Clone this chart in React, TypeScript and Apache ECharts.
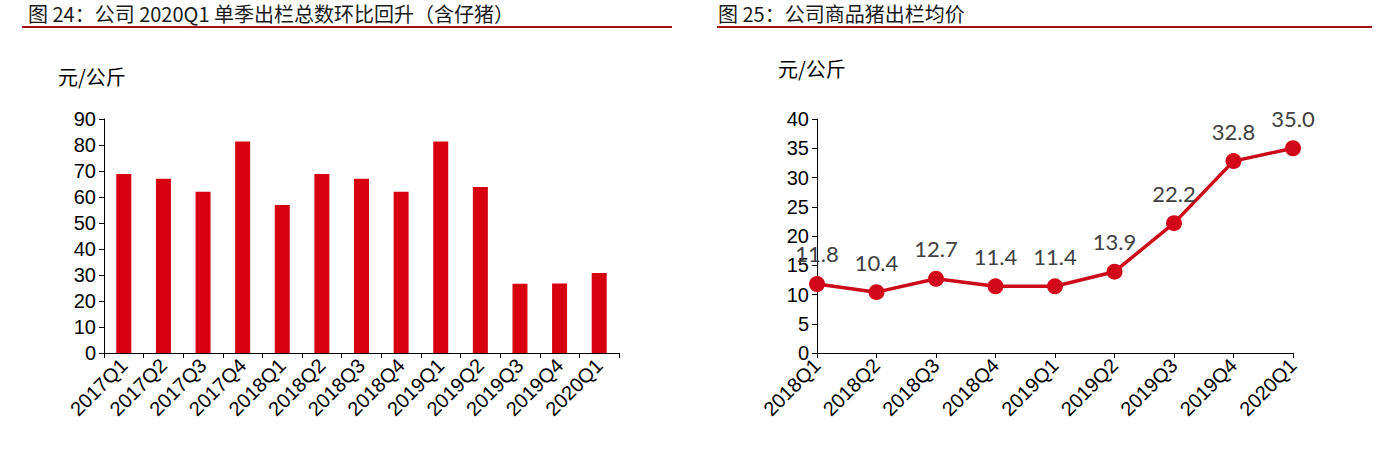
import { useEffect, useRef } from 'react';
import * as echarts from 'echarts';

// Left chart: quarterly output (bars)
const barCategories = [
  '2017Q1', '2017Q2', '2017Q3', '2017Q4',
  '2018Q1', '2018Q2', '2018Q3', '2018Q4',
  '2019Q1', '2019Q2', '2019Q3', '2019Q4', '2020Q1',
];
const barValues = [68.8, 67, 62, 81.3, 56.9, 68.8, 67, 62, 81.3, 63.8, 26.6, 26.7, 30.8];
const barTicks = { min: 0, max: 90, interval: 10 };

// Right chart: average selling price (line)
const lineCategories = [
  '2018Q1', '2018Q2', '2018Q3', '2018Q4',
  '2019Q1', '2019Q2', '2019Q3', '2019Q4', '2020Q1',
];
const lineValues = [11.8, 10.4, 12.7, 11.4, 11.4, 13.9, 22.2, 32.8, 35.0];
const lineTicks = { min: 0, max: 40, interval: 5 };

const leftTitle = '图 24：公司 2020Q1 单季出栏总数环比回升（含仔猪）';
const rightTitle = '图 25：公司商品猪出栏均价';
const unitLabel = '元/公斤';

const CJK = 'Noto Sans CJK SC';
const ARIAL = 'Liberation Sans';

export default function App() {
  const chartRef = useRef<HTMLDivElement>(null);

  useEffect(() => {
    if (!chartRef.current) {
      return;
    }
    const chart = echarts.init(chartRef.current, null, { renderer: 'svg' });

    const catAxis = (gridIndex: number, data: string[], boundaryGap: boolean) => ({
      type: 'category' as const,
      gridIndex,
      data,
      boundaryGap,
      axisLine: { lineStyle: { color: '#000', width: 1 } },
      axisTick: { show: true, length: 5, lineStyle: { color: '#000' } },
      axisLabel: {
        interval: 0,
        rotate: 45,
        margin: 9,
        color: '#000',
        fontSize: 20,
        fontFamily: ARIAL,
      },
    });

    const valAxis = (gridIndex: number, ticks: { min: number; max: number; interval: number }) => ({
      type: 'value' as const,
      gridIndex,
      min: ticks.min,
      max: ticks.max,
      interval: ticks.interval,
      splitLine: { show: false },
      axisLine: { show: true, lineStyle: { color: '#000', width: 1 } },
      axisTick: { show: true, length: 5, lineStyle: { color: '#000' } },
      axisLabel: { color: '#000', fontSize: 20, fontFamily: ARIAL, margin: 8 },
    });

    const option: echarts.EChartsOption = {
      animation: false,
      backgroundColor: '#fff',
      grid: [
        { left: 104, top: 119, width: 515, height: 234 },
        { left: 817, top: 119, width: 476, height: 234 },
      ],
      xAxis: [catAxis(0, barCategories, true), catAxis(1, lineCategories, false)],
      yAxis: [valAxis(0, barTicks), valAxis(1, lineTicks)],
      series: [
        {
          type: 'bar',
          xAxisIndex: 0,
          yAxisIndex: 0,
          data: barValues,
          barWidth: 15,
          itemStyle: { color: '#D6000F' },
        },
        {
          type: 'line',
          xAxisIndex: 1,
          yAxisIndex: 1,
          data: lineValues,
          symbol: 'circle',
          symbolSize: 16,
          lineStyle: { color: '#CC0A1A', width: 3.5 },
          itemStyle: { color: '#D2081A' },
          label: {
            show: true,
            position: 'top',
            distance: 11,
            color: '#404040',
            fontSize: 22,
            fontFamily: 'Lato',
            formatter: (p: any) => Number(p.value).toFixed(1),
          },
        },
      ],
      graphic: [
        {
          type: 'text',
          left: 28,
          top: 3,
          style: { text: leftTitle, fontSize: 20, fontFamily: CJK, fill: '#1a1a1a' },
        },
        {
          type: 'line',
          shape: { x1: 22, y1: 27, x2: 672, y2: 27 },
          style: { stroke: '#A3141A', lineWidth: 2 },
        },
        {
          type: 'text',
          left: 718,
          top: 3,
          style: { text: rightTitle, fontSize: 20, fontFamily: CJK, fill: '#1a1a1a' },
        },
        {
          type: 'line',
          shape: { x1: 717, y1: 27, x2: 1372, y2: 27 },
          style: { stroke: '#A3141A', lineWidth: 2 },
        },
        {
          type: 'text',
          left: 58,
          top: 66,
          style: { text: unitLabel, fontSize: 20, fontFamily: CJK, fill: '#000' },
        },
        {
          type: 'text',
          left: 778,
          top: 58,
          style: { text: unitLabel, fontSize: 20, fontFamily: CJK, fill: '#000' },
        },
      ],
    };

    chart.setOption(option);

    return () => {
      chart.dispose();
    };
  }, []);

  return (
    <div
      ref={chartRef}
      style={{ position: 'fixed', left: 0, top: 0, width: 1376, height: 458, background: '#fff' }}
    />
  );
}
